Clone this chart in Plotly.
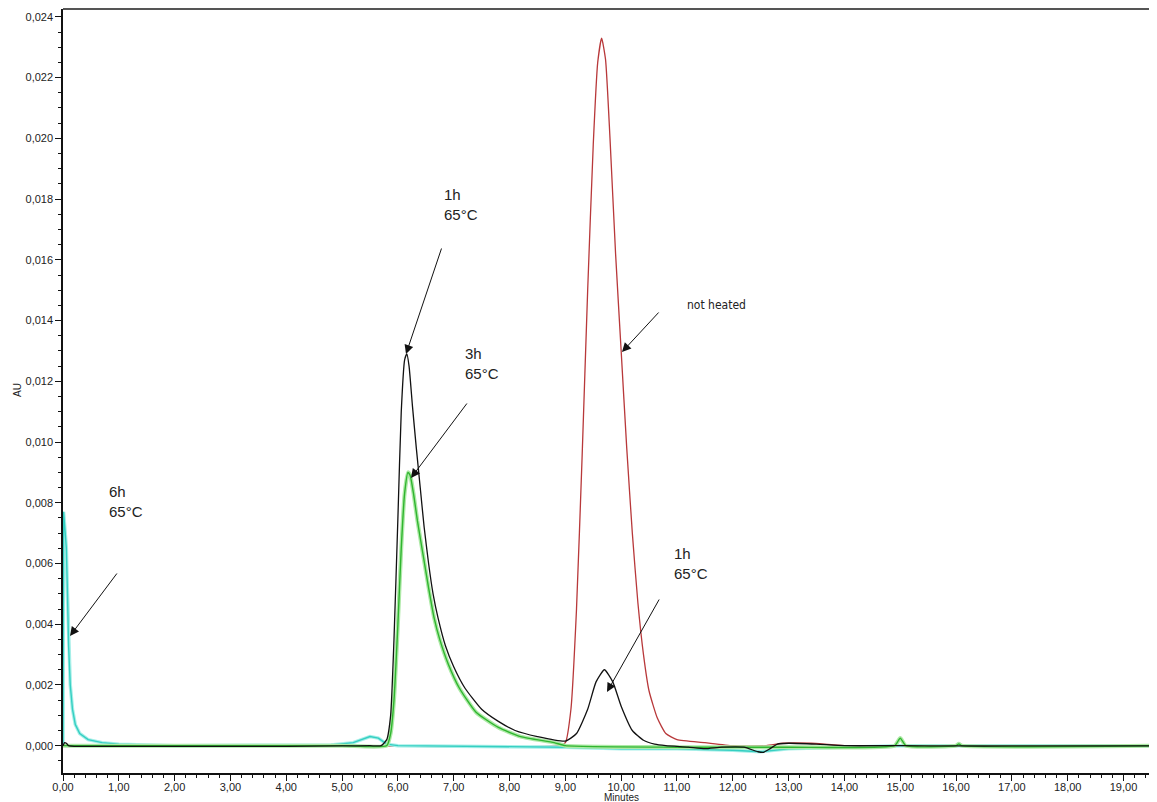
import plotly.graph_objects as go

# ---------------- data ----------------
# 1h 65°C (black)
black_x = [0.00, 0.03, 0.06, 0.10, 0.20, 0.50, 1.00, 2.00, 3.00, 4.00, 5.00, 5.50, 5.70,
           5.80, 5.87, 5.93, 6.00, 6.06, 6.12, 6.16, 6.20, 6.26, 6.33, 6.40, 6.47, 6.55,
           6.63, 6.72, 6.85, 7.00, 7.20, 7.50, 7.80, 8.10, 8.50, 9.00, 9.20, 9.40, 9.55,
           9.70, 9.85, 10.00, 10.20, 10.40, 10.60, 10.80, 11.20, 11.50, 11.80, 12.20,
           12.45, 12.55, 12.65, 12.80, 13.00, 13.50, 14.00, 15.00, 16.00, 17.00, 18.00,
           19.00, 19.60]
black_y = [0.0000, 0.0001, 0.00008, 0.0000, -0.00002, -0.00002, -0.00002, -0.00002,
           -0.00002, -0.00002, -0.00001, 0.0000, 0.0000,
           0.0002, 0.0010, 0.0035, 0.0075, 0.0110, 0.0127, 0.0129, 0.0125, 0.0112,
           0.0098, 0.0085, 0.0072, 0.0060, 0.0050, 0.0042, 0.0033, 0.0026, 0.0019,
           0.0012, 0.0008, 0.0005, 0.0003, 0.00015, 0.0004, 0.0012, 0.0021, 0.0025,
           0.0021, 0.0013, 0.0005, 0.00018, 0.00005, 0.0000, -0.00005, -0.0001,
           -0.00005, -0.00005, -0.0002, -0.00022, -0.00012, 0.00005, 0.00008, 0.00005,
           0.0000, 0.0000, -0.00001, -0.00001, -0.00001, -0.00001, -0.00001]

# 3h 65°C (green)
green_x = [0.00, 1.00, 3.00, 5.00, 5.80, 5.87, 5.93, 6.00, 6.06, 6.12, 6.18, 6.22, 6.28,
           6.35, 6.45, 6.55, 6.65, 6.75, 6.90, 7.10, 7.40, 7.80, 8.20, 8.80, 9.00,
           11.00, 13.00, 14.90, 15.00, 15.10, 16.00, 16.05, 16.10, 19.60]
green_y = [0.0000, 0.0000, 0.0000, 0.0000, 0.0000, 0.0004, 0.0015, 0.0040, 0.0065,
           0.0083, 0.0090, 0.0089, 0.0083, 0.0074, 0.0063, 0.0052, 0.0042, 0.0035,
           0.0027, 0.0019, 0.0011, 0.0006, 0.0003, 0.0001, 0.0000,
           -0.00005, -0.00005, 0.0000, 0.00025, 0.0000, 0.0000, 0.00006, 0.0000, 0.0000]

# not heated (red)
red_x = [0.00, 5.00, 8.90, 9.00, 9.10, 9.20, 9.30, 9.40, 9.50, 9.58, 9.65, 9.72, 9.80,
         9.90, 10.00, 10.10, 10.20, 10.30, 10.40, 10.50, 10.65, 10.80, 11.00, 11.50,
         12.00, 12.60, 12.90, 13.40, 14.00, 19.60]
red_y = [0.0000, 0.0000, 0.0000, 0.0001, 0.0012, 0.0045, 0.0095, 0.0150, 0.0198,
         0.0225, 0.0233, 0.0226, 0.0200, 0.0162, 0.0130, 0.0098, 0.0070, 0.0047,
         0.0030, 0.0018, 0.0009, 0.0004, 0.0002, 0.0001, 0.0000, 0.0000, 0.00008,
         0.00008, 0.0000, 0.0000]

# 6h 65°C (cyan)
cyan_x = [0.00, 0.01, 0.04, 0.06, 0.08, 0.10, 0.13, 0.17, 0.22, 0.30, 0.45, 0.70, 1.00,
          2.00, 4.00, 4.80, 5.20, 5.50, 5.65, 5.80, 6.00, 9.00, 10.00, 11.00, 12.00,
          12.50, 13.00, 14.00, 15.00, 19.60]
cyan_y = [0.0000, 0.0077, 0.0070, 0.0065, 0.0050, 0.0033, 0.0020, 0.0012, 0.0007,
          0.0004, 0.0002, 0.0001, 0.00005, 0.0000, 0.0000, 0.00002, 0.0001, 0.0003,
          0.00025, 0.00005, 0.0000, -0.00005, -0.0001, -0.0001, -0.00015, -0.0002,
          -0.0001, -0.00005, 0.0000, 0.0000]

y_ticks = [0.000, 0.002, 0.004, 0.006, 0.008, 0.010, 0.012, 0.014, 0.016, 0.018,
           0.020, 0.022, 0.024]
x_ticks = list(range(0, 20))

# ---------------- layout constants ----------------
OFF = 8                      # default page body margin
W, H = 1157 - OFF, 802 - OFF
ML, MR, MT, MB = 63 - OFF, 0, 9 - OFF, 29
XR = [0, 19.6]
YR = [-0.0009, 0.02426]
PW, PH = W - ML - MR, H - MT - MB
PL, PT = ML + OFF, MT + OFF   # plot-area origin in window pixels


def xd(px):
    return XR[0] + (px - PL) * (XR[1] - XR[0]) / PW


def yd(py):
    return YR[1] - (py - PT) * (YR[1] - YR[0]) / PH


def xp(px):
    return (px - PL) / PW


def yp(py):
    return 1 - (py - PT) / PH


FONT = "Liberation Sans, Arial, sans-serif"

fig = go.Figure()
fig.add_trace(go.Scatter(x=red_x, y=red_y, mode="lines",
                         line=dict(color="#b8383a", width=1.3, shape="spline", smoothing=0.5)))
fig.add_trace(go.Scatter(x=cyan_x, y=cyan_y, mode="lines", line=dict(color="#a6efe8", width=3.5)))
fig.add_trace(go.Scatter(x=cyan_x, y=cyan_y, mode="lines", line=dict(color="#35cfc2", width=1.4)))
fig.add_trace(go.Scatter(x=green_x, y=green_y, mode="lines",
                         line=dict(color="#ade9a6", width=4, shape="spline", smoothing=0.5)))
fig.add_trace(go.Scatter(x=green_x, y=green_y, mode="lines",
                         line=dict(color="#2fb52f", width=1.4, shape="spline", smoothing=0.5)))
fig.add_trace(go.Scatter(x=black_x, y=black_y, mode="lines",
                         line=dict(color="#111111", width=1.3, shape="spline", smoothing=0.5)))

annotations = []
# arrows: (tail px, tip px) in window pixels
arrows = [((118, 572), (70, 636)),
          ((442, 247), (406, 354)),
          ((468, 402), (411, 478)),
          ((660, 311), (622, 352)),
          ((660, 598), (607, 692))]
for (tx, ty), (hx, hy) in arrows:
    annotations.append(dict(x=xd(hx), y=yd(hy), ax=xd(tx), ay=yd(ty), axref="x", ayref="y",
                            xref="x", yref="y", text="", showarrow=True, arrowhead=2,
                            arrowsize=1.8, arrowwidth=1, arrowcolor="#111111"))

labels = [("6h<br>65°C", 107, 481),
          ("1h<br>65°C", 442, 184),
          ("3h<br>65°C", 463, 343),
          ("1h<br>65°C", 672, 543)]
for txt, px, py in labels:
    annotations.append(dict(x=xp(px), y=yp(py), xref="paper", yref="paper", text=txt,
                            showarrow=False, xanchor="left", yanchor="top", align="left",
                            font=dict(family=FONT, size=15, color="#222222")))
annotations.append(dict(x=xp(685), y=yp(296), xref="paper", yref="paper", text="not heated",
                        showarrow=False, xanchor="left", yanchor="top",
                        font=dict(family="Liberation Sans Narrow, DejaVu Sans Condensed, Arial",
                                  size=12, color="#222222")))
annotations.append(dict(x=xp(621), y=yp(790), xref="paper", yref="paper", text="Minutes",
                        showarrow=False, xanchor="center", yanchor="top",
                        font=dict(family=FONT, size=10, color="#222222")))
annotations.append(dict(x=xp(18), y=yp(390), xref="paper", yref="paper", text="AU",
                        showarrow=False, xanchor="center", yanchor="middle", textangle=-90,
                        font=dict(family=FONT, size=10, color="#222222")))

fig.update_layout(
    width=W, height=H,
    margin=dict(l=ML, r=MR, t=MT, b=MB, autoexpand=False),
    paper_bgcolor="white", plot_bgcolor="white",
    showlegend=False,
    separators=",.",
    annotations=annotations,
    shapes=[dict(type="line", xref="paper", yref="paper", x0=0, x1=1, y0=1, y1=1,
                 line=dict(color="#555555", width=2))],
)
fig.update_xaxes(range=XR, tickvals=x_ticks, tickformat=".2f", ticks="outside", ticklen=6,
                 tickcolor="#111111", showline=True, linecolor="#111111", linewidth=1.5,
                 showgrid=False, zeroline=False, automargin=False, ticklabelstandoff=-3,
                 tickfont=dict(family=FONT, size=11, color="#222222"),
                 minor=dict(dtick=0.2, tick0=0, ticks="outside", ticklen=3, tickcolor="#111111"))
fig.update_yaxes(range=YR, tickvals=y_ticks, tickformat=".3f", ticks="outside", ticklen=6,
                 tickcolor="#111111", showline=True, linecolor="#111111", linewidth=1.5,
                 showgrid=False, zeroline=False, automargin=False,
                 tickfont=dict(family=FONT, size=11, color="#222222"),
                 minor=dict(dtick=0.0005, tick0=0, ticks="outside", ticklen=3, tickcolor="#111111"))

fig.write_html("out.html")
